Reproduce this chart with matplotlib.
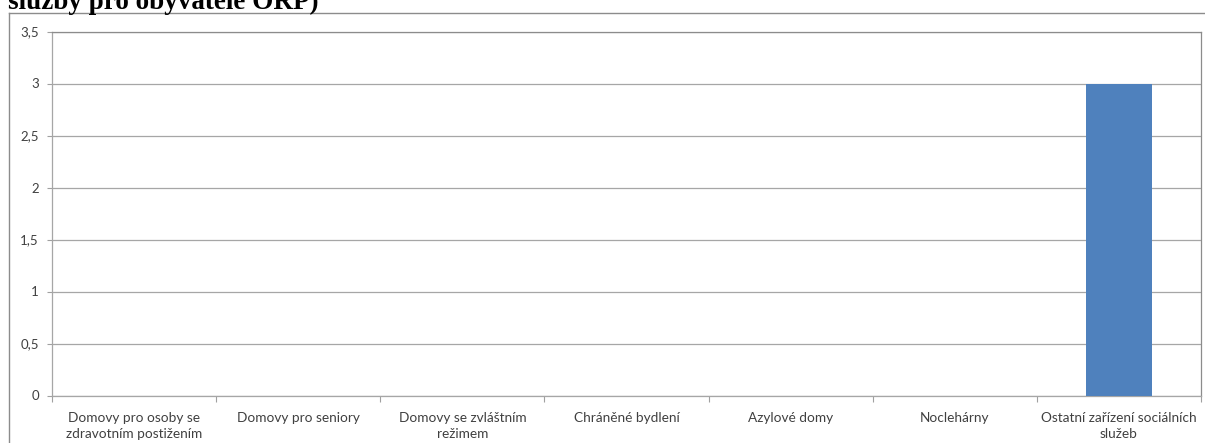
import numpy as np
import matplotlib
matplotlib.use('Agg')
import matplotlib.pyplot as plt
from matplotlib.lines import Line2D

# data
categories = ['Domovy pro osoby se\nzdravotním postižením', 'Domovy pro seniory',
              'Domovy se zvláštním\nrežimem', 'Chráněné bydlení', 'Azylové domy',
              'Noclehárny', 'Ostatní zařízení sociálních\nslužeb']
values = [0, 0, 0, 0, 0, 0, 3]
ytick_values = [0, 0.5, 1, 1.5, 2, 2.5, 3, 3.5]
ytick_labels = ['0', '0,5', '1', '1,5', '2', '2,5', '3', '3,5']
title_text = 'služby pro obyvatele ORP)'

W, H = 1205, 443
fig = plt.figure(figsize=(W / 100, H / 100), dpi=100)

# plot area in pixels: left 52, right 1201, top 31.5, bottom 395.5
ax = fig.add_axes([52 / W, 1 - 395.5 / H, (1201 - 52) / W, (395.5 - 31.5) / H])

x = np.arange(len(categories))
ax.bar(x, values, width=0.40, color='#4F81BD', zorder=3)

ax.set_xlim(-0.5, len(categories) - 0.5)
ax.set_ylim(0, 3.5)

ax.set_yticks(ytick_values)
ax.set_yticklabels(ytick_labels, fontfamily='Lato', fontsize=9.5, color='#404040')
ax.tick_params(axis='y', direction='out', length=3.5, width=0.8, color='#a0a0a0', pad=6)

ax.set_xticks(x)
ax.set_xticklabels(categories, fontfamily='Lato', fontsize=9.8, color='#404040',
                   linespacing=1.35)
ax.tick_params(axis='x', which='major', length=0, pad=12)
ax.set_xticks(np.arange(len(categories) + 1) - 0.5, minor=True)
ax.tick_params(axis='x', which='minor', direction='out', length=4, width=0.8, color='#a0a0a0')

ax.yaxis.grid(True, color='#a6a6a6', linewidth=0.9, zorder=0)
ax.set_axisbelow(True)

for side in ['top', 'right']:
    ax.spines[side].set_color('#8c8c8c')
    ax.spines[side].set_linewidth(0.9)
for side in ['left', 'bottom']:
    ax.spines[side].set_color('#a6a6a6')
    ax.spines[side].set_linewidth(0.9)

# outer chart frame, cut off at right and bottom
fig.add_artist(Line2D([8.5 / W, 8.5 / W], [0, 1 - 13 / H], transform=fig.transFigure,
                      color='#8c8c8c', linewidth=1.0))
fig.add_artist(Line2D([8.5 / W, 1], [1 - 13 / H, 1 - 13 / H], transform=fig.transFigure,
                      color='#8c8c8c', linewidth=1.0))

# caption line above the chart, clipped at the top edge as in the reference
fig.text(8 / W, 1 - 9 / H, title_text, fontfamily='Liberation Serif', fontweight='bold',
         fontsize=19.5, va='baseline', ha='left', color='black')

fig.savefig('out.png', dpi=100)
